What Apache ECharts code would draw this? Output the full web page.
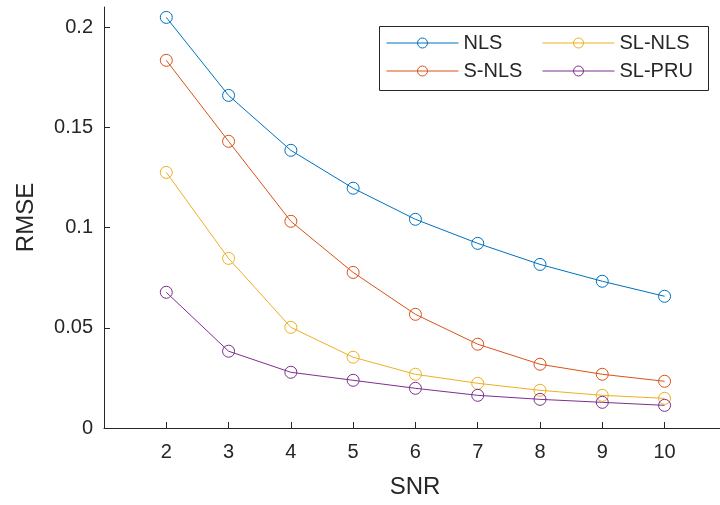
<!DOCTYPE html>
<html>
<head>
<meta charset="utf-8">
<script src="https://cdn.jsdelivr.net/npm/echarts@6/dist/echarts.min.js"></script>
<style>
  html, body { margin: 0; padding: 0; background: #fff; }
  #chart { width: 720px; height: 505px; }
</style>
</head>
<body>
<div id="chart"></div>
<script>
// values
const snr = [2, 3, 4, 5, 6, 7, 8, 9, 10];
const nls = [0.2048, 0.1659, 0.1385, 0.1196, 0.1041, 0.0921, 0.0816, 0.0732, 0.0657];
const sNls = [0.1834, 0.1430, 0.1031, 0.0776, 0.0567, 0.0418, 0.0318, 0.0268, 0.0233];
const slNls = [0.1275, 0.0846, 0.0502, 0.0353, 0.0268, 0.0223, 0.0188, 0.0163, 0.0148];
const slPru = [0.0677, 0.0383, 0.0278, 0.0238, 0.0198, 0.0163, 0.0143, 0.0128, 0.0113];
const yTicks = [0, 0.05, 0.1, 0.15, 0.2];
const xTicks = snr;

const names = ['NLS', 'S-NLS', 'SL-NLS', 'SL-PRU'];
const colors = ['#0072BD', '#D95319', '#EDB120', '#7E2F8E'];
const values = [nls, sNls, slNls, slPru];

const FONT = '"Liberation Sans", Arial, sans-serif';
const INK = '#262626';

const chart = echarts.init(document.getElementById('chart'));

const series = names.map(function (name, i) {
  return {
    name: name,
    type: 'line',
    data: snr.map(function (x, j) { return [x, values[i][j]]; }),
    symbol: 'circle',
    symbolSize: 12,
    lineStyle: { width: 1, color: colors[i] },
    itemStyle: { color: 'rgba(255,255,255,0)', borderColor: colors[i], borderWidth: 1 },
    emphasis: { disabled: true },
    animation: false
  };
});

function legendCol(left, data) {
  return {
    data: data,
    orient: 'vertical',
    left: left,
    top: 33,
    padding: 0,
    itemGap: 8,
    itemWidth: 72,
    itemHeight: 12.5,
    itemStyle: { borderWidth: 1 },
    lineStyle: { width: 1 },
    textStyle: { fontFamily: FONT, fontSize: 20, color: INK },
    selectedMode: false
  };
}

chart.setOption({
  backgroundColor: '#fff',
  animation: false,
  textStyle: { fontFamily: FONT },
  grid: { left: 104, top: 7, right: 0, height: 421, containLabel: false },
  graphic: [{
    type: 'rect',
    shape: { x: 379.5, y: 26.5, width: 329, height: 64 },
    style: { fill: '#fff', stroke: INK, lineWidth: 1 },
    z: 0
  }],
  legend: [
    legendCol(386, ['NLS', 'S-NLS']),
    legendCol(542, ['SL-NLS', 'SL-PRU'])
  ],
  xAxis: {
    type: 'value',
    min: 1,
    max: 10.89,
    name: 'SNR',
    nameLocation: 'middle',
    nameGap: 47,
    nameTextStyle: { fontFamily: FONT, fontSize: 24, color: INK, padding: [0, 0, 0, 6] },
    axisLine: { lineStyle: { color: INK, width: 1 } },
    axisTick: { inside: true, length: 6, customValues: xTicks, lineStyle: { color: INK } },
    axisLabel: { customValues: xTicks, margin: 14, fontFamily: FONT, fontSize: 20, color: INK },
    splitLine: { show: false }
  },
  yAxis: {
    type: 'value',
    min: 0,
    max: 0.21,
    name: 'RMSE',
    nameLocation: 'middle',
    nameGap: 66,
    nameTextStyle: { fontFamily: FONT, fontSize: 24, color: INK },
    axisLine: { show: true, lineStyle: { color: INK, width: 1 } },
    axisTick: { show: true, inside: true, length: 6, customValues: yTicks, lineStyle: { color: INK } },
    axisLabel: { customValues: yTicks, margin: 11, fontFamily: FONT, fontSize: 20, color: INK },
    splitLine: { show: false }
  },
  series: series
});
</script>
</body>
</html>
